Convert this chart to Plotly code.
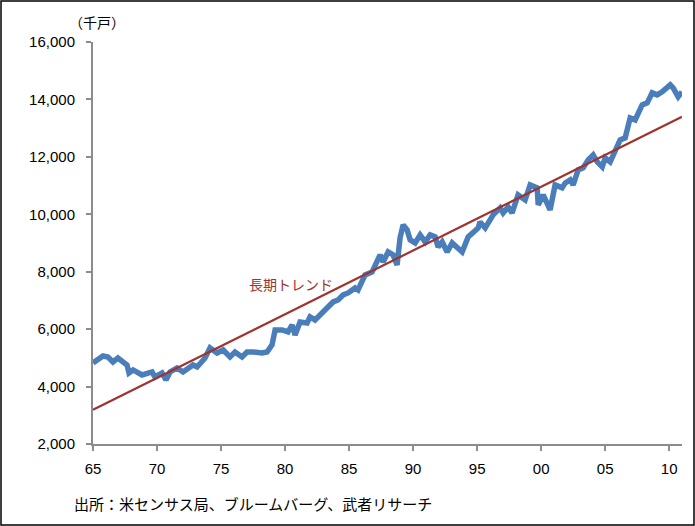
import plotly.graph_objects as go

# Housing stock series (thousand units)
years = [1965.0, 1965.78, 1966.17, 1966.56, 1966.95, 1967.27, 1967.66, 1967.81, 1968.13, 1968.83,
         1969.61, 1969.84, 1970.39, 1970.70, 1971.02, 1971.56, 1972.03, 1972.81, 1973.13, 1973.75,
         1974.14, 1974.69, 1975.16, 1975.70, 1976.09, 1976.64, 1977.03, 1977.50, 1978.20, 1978.59,
         1978.98, 1979.22, 1979.77, 1980.23, 1980.55, 1980.78, 1981.17, 1981.72, 1981.95, 1982.34,
         1982.97, 1983.36, 1983.75, 1984.14, 1984.53, 1984.92, 1985.47, 1985.70, 1986.25, 1986.80,
         1987.19, 1987.42, 1987.66, 1988.05, 1988.44, 1988.75, 1988.98, 1989.22, 1989.53, 1989.77,
         1990.16, 1990.55, 1990.94, 1991.33, 1991.72, 1991.95, 1992.27, 1992.66, 1993.05, 1993.44,
         1993.83, 1994.30, 1994.69, 1995.08, 1995.23, 1995.63, 1996.25, 1996.80, 1997.03, 1997.42,
         1997.73, 1998.20, 1998.75, 1999.14, 1999.69, 1999.77, 2000.16, 2000.70, 2001.09, 2001.64,
         2001.88, 2002.27, 2002.50, 2002.89, 2003.28, 2003.67, 2004.06, 2004.38, 2004.77, 2005.00,
         2005.39, 2005.78, 2006.17, 2006.56, 2006.95, 2007.34, 2007.89, 2008.28, 2008.67, 2009.06,
         2009.45, 2010.08, 2010.31, 2010.70, 2011.0]
values = [4822, 5066, 5031, 4857, 4996, 4857, 4752, 4474, 4578, 4404,
          4508, 4334, 4474, 4230, 4508, 4648, 4508, 4752, 4683, 4996,
          5345, 5170, 5275, 5031, 5205, 5031, 5205, 5205, 5170, 5205,
          5449, 5972, 5972, 5902, 6146, 5798, 6250, 6216, 6425, 6320,
          6599, 6738, 6947, 7017, 7191, 7261, 7435, 7365, 7888, 7992,
          8306, 8585, 8341, 8689, 8585, 8236, 9177, 9630, 9456, 9107,
          9003, 9282, 9038, 9282, 9212, 8863, 9038, 8689, 9003, 8863,
          8689, 9212, 9351, 9525, 9734, 9525, 9978, 10222, 10048, 10257,
          10048, 10675, 10501, 11024, 10919, 10327, 10675, 10153, 11024, 10919,
          11093, 11198, 11024, 11546, 11616, 11895, 12069, 11825, 11651, 11964,
          11825, 12243, 12591, 12661, 13358, 13288, 13811, 13880, 14229, 14159,
          14264, 14508, 14403, 14090, 14264]

# Long-term trend line endpoints
trend_years = [1965.0, 2011.0]
trend_values = [3190, 13400]

tick_years = [1965, 1970, 1975, 1980, 1985, 1990, 1995, 2000, 2005, 2010]
tick_labels = ["65", "70", "75", "80", "85", "90", "95", "00", "05", "10"]

fig = go.Figure()
fig.add_trace(go.Scatter(x=years, y=values, mode="lines",
                         line=dict(color="#4A7EBB", width=5.5), showlegend=False))
fig.add_trace(go.Scatter(x=trend_years, y=trend_values, mode="lines",
                         line=dict(color="#A0332E", width=2.2), showlegend=False))

axis_color = "#8C8C8C"
fig.update_layout(
    width=695, height=526,
    margin=dict(l=93, r=13, t=42, b=82),
    paper_bgcolor="white", plot_bgcolor="white",
    font=dict(family="Liberation Sans, Arial", size=15, color="black"),
    xaxis=dict(range=[1965, 2011.0], tickvals=tick_years, ticktext=tick_labels,
               showgrid=False, zeroline=False, showline=True, linecolor=axis_color,
               linewidth=2, ticks="outside", ticklen=5, tickcolor=axis_color, tickwidth=2,
               ticklabelstandoff=5),
    yaxis=dict(range=[2000, 16000], dtick=2000, tickformat=",",
               showgrid=False, zeroline=False, showline=True, linecolor=axis_color,
               linewidth=2, ticks="outside", ticklen=5, tickcolor=axis_color, tickwidth=2,
               ticklabelstandoff=8),
)

fig.add_annotation(text="（千戸）", xref="paper", yref="paper",
                   x=(97 - 93) / 589, y=(444 - 22) / 402, showarrow=False,
                   xanchor="center", yanchor="middle",
                   font=dict(family="Noto Sans CJK JP", size=14, color="black"))
fig.add_annotation(text="長期トレンド", xref="paper", yref="paper",
                   x=(247 - 93) / 589, y=(444 - 284) / 402, showarrow=False,
                   xanchor="left", yanchor="middle",
                   font=dict(family="Noto Sans CJK JP", size=14, color="#A0332E"))
fig.add_annotation(text="出所：米センサス局、ブルームバーグ、武者リサーチ", xref="paper", yref="paper",
                   x=(72 - 93) / 589, y=(444 - 503) / 402, showarrow=False,
                   xanchor="left", yanchor="middle",
                   font=dict(family="Noto Sans CJK JP", size=15, color="black"))

fig.add_shape(type="rect", xref="paper", yref="paper",
              x0=(1 - 93) / 589, x1=(694 - 93) / 589,
              y0=(444 - 525) / 402, y1=(444 - 1) / 402,
              line=dict(color="black", width=1.5), fillcolor="rgba(0,0,0,0)")

fig.write_html("out.html", config={"displayModeBar": False},
               post_script="document.body.style.margin='0';document.body.style.overflow='hidden';")
